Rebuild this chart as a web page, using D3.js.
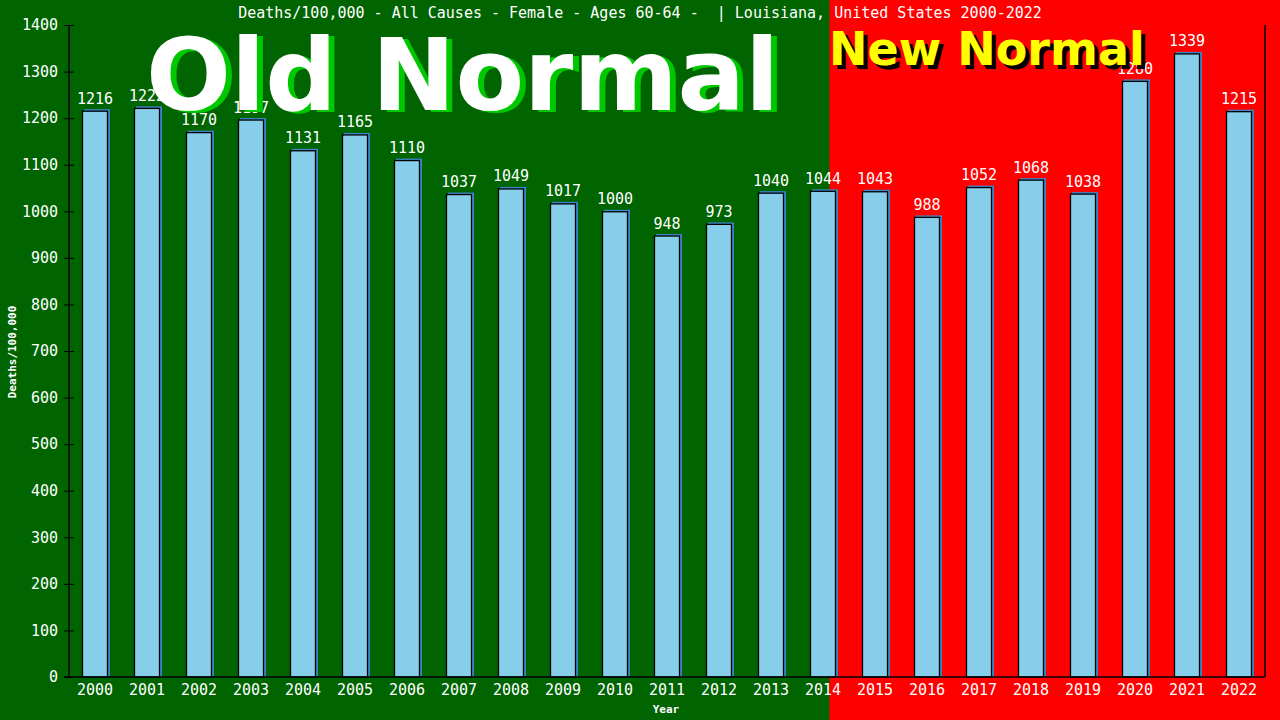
<!DOCTYPE html>
<html>
<head>
<meta charset="utf-8">
<script src="https://d3js.org/d3.v7.min.js"></script>
<style>
  body { margin: 0; background: #006400; }
  text { font-family: "DejaVu Sans Mono", monospace; white-space: pre; }
</style>
</head>
<body>
<div id="chart"></div>
<script>
// 数据
var years = ["2000","2001","2002","2003","2004","2005","2006","2007","2008","2009","2010","2011",
             "2012","2013","2014","2015","2016","2017","2018","2019","2020","2021","2022"];
var deaths = [1216,1222,1170,1197,1131,1165,1110,1037,1049,1017,1000,948,
              973,1040,1044,1043,988,1052,1068,1038,1280,1339,1215];
var yTicks = [0,100,200,300,400,500,600,700,800,900,1000,1100,1200,1300,1400];
var splitYear = "2014";
var title = "Deaths/100,000 - All Causes - Female - Ages 60-64 -  | Louisiana, United States 2000-2022";

var width = 1280, height = 720;
var mLeft = 69, mRight = 1265, mTop = 25, mBottom = 677;
var fs = 15;

var svg = d3.select("#chart").append("svg")
    .attr("width", width)
    .attr("height", height);

var x = d3.scaleBand()
    .domain(years)
    .range([mLeft, mRight])
    .paddingInner(0.5)
    .paddingOuter(0.25);

var y = d3.scaleLinear()
    .domain([0, 1400])
    .range([mBottom, mTop]);

// 背景：绿色 / 红色
var splitX = x(splitYear) + x.bandwidth() * 0.75;
svg.append("rect").attr("x", 0).attr("y", 0).attr("width", width).attr("height", height).attr("fill", "#006400");
svg.append("rect").attr("x", splitX).attr("y", 0).attr("width", width - splitX).attr("height", height).attr("fill", "#ff0000");

// 柱子阴影
svg.selectAll("rect.shadow")
    .data(deaths)
    .enter().append("rect")
    .attr("class", "shadow")
    .attr("x", (d, i) => x(years[i]) + 2)
    .attr("y", d => y(d) - 1.5)
    .attr("width", x.bandwidth())
    .attr("height", d => mBottom - y(d) + 1.5)
    .attr("fill", "#3c86c8");

// 柱子
svg.selectAll("rect.bar")
    .data(deaths)
    .enter().append("rect")
    .attr("class", "bar")
    .attr("x", (d, i) => x(years[i]) + 0.5)
    .attr("y", d => y(d) + 0.5)
    .attr("width", x.bandwidth() - 1)
    .attr("height", d => mBottom - y(d) - 0.5)
    .attr("fill", "#87ceeb")
    .attr("stroke", "#000")
    .attr("stroke-width", 1.3);

// 数值标签
svg.selectAll("text.val")
    .data(deaths)
    .enter().append("text")
    .attr("class", "val")
    .attr("x", (d, i) => x(years[i]) + x.bandwidth() / 2)
    .attr("y", d => y(d) - 7)
    .attr("text-anchor", "middle")
    .attr("fill", "#fff")
    .attr("font-size", fs)
    .text(d => d);

// 大字
function bigText(str, xp, yp, size, fill, shadow, dx, dy) {
    svg.append("text")
        .attr("x", xp + dx).attr("y", yp + dy)
        .style("font-family", "DejaVu Sans")
        .attr("font-weight", "bold")
        .attr("font-size", size)
        .attr("fill", shadow)
        .text(str);
    svg.append("text")
        .attr("x", xp).attr("y", yp)
        .style("font-family", "DejaVu Sans")
        .attr("font-weight", "bold")
        .attr("font-size", size)
        .attr("fill", fill)
        .text(str);
}
bigText("Old Normal", 146, 110, 100, "#ffffff", "#00c800", 6, 2);
bigText("New Normal", 829, 65, 46, "#ffff00", "#000000", 4, 4);

// 坐标轴
var yAxis = svg.append("g")
    .attr("transform", "translate(" + mLeft + ",0)")
    .call(d3.axisLeft(y).tickValues(yTicks).tickFormat(d3.format("d")).tickSize(0).tickPadding(11));
yAxis.select(".domain").remove();
yAxis.selectAll("text").attr("fill", "#fff").attr("font-size", fs)
    .style("font-family", "DejaVu Sans Mono");
yAxis.selectAll(".tick").append("line")
    .attr("x1", -5).attr("x2", 5).attr("stroke", "#000");

var xAxis = svg.append("g")
    .attr("transform", "translate(0," + mBottom + ")")
    .call(d3.axisBottom(x).tickSize(0).tickPadding(7));
xAxis.select(".domain").remove();
xAxis.selectAll("text").attr("fill", "#fff").attr("font-size", fs)
    .style("font-family", "DejaVu Sans Mono")
    .attr("dy", "0.75em");

svg.append("line").attr("x1", mLeft).attr("x2", mLeft).attr("y1", mTop).attr("y2", mBottom).attr("stroke", "#000").attr("stroke-width", 1.5);
svg.append("line").attr("x1", mRight).attr("x2", mRight).attr("y1", mTop).attr("y2", mBottom).attr("stroke", "#000").attr("stroke-width", 1.5);
svg.append("line").attr("x1", mLeft - 5).attr("x2", mRight).attr("y1", mBottom).attr("y2", mBottom).attr("stroke", "#000").attr("stroke-width", 1.5);

// 标题和轴名
svg.append("text")
    .attr("x", 640).attr("y", 18)
    .attr("text-anchor", "middle")
    .attr("fill", "#fff")
    .attr("font-size", fs)
    .text(title);

svg.append("text")
    .attr("x", 666).attr("y", 713)
    .attr("text-anchor", "middle")
    .attr("fill", "#fff")
    .attr("font-size", 11)
    .attr("font-weight", "bold")
    .text("Year");

svg.append("text")
    .attr("transform", "translate(16,352) rotate(-90)")
    .attr("text-anchor", "middle")
    .attr("fill", "#fff")
    .attr("font-size", 11)
    .attr("font-weight", "bold")
    .text("Deaths/100,000");
</script>
</body>
</html>
